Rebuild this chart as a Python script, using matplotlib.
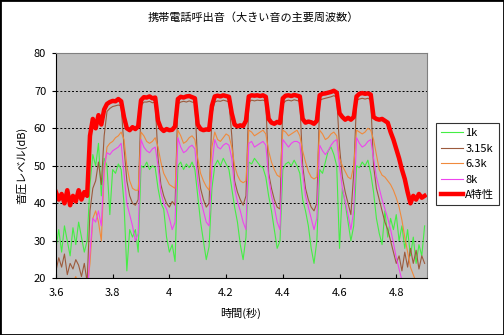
import numpy as np
import matplotlib
matplotlib.use('Agg')
import matplotlib.pyplot as plt
from matplotlib.patches import Rectangle

plt.rcParams['font.family'] = ['Noto Sans CJK JP', 'DejaVu Sans']

# 時間軸 (0.01秒刻み, 3.60〜4.90秒)
t_start = 3.60
t_step = 0.01

# 各周波数の音圧レベル (dB)
lv_1k = [
    28, 33, 27, 34, 30, 26, 33.5, 29, 35, 31,
    27, 30, 45, 53, 50, 56, 42, 52, 50, 37,
    49, 48, 50.5, 49, 40, 22, 33, 31, 33, 27,
    50, 49.5, 51, 49, 50, 49.5, 44, 40, 38.5, 31,
    27, 29, 24.5, 50, 51, 49, 50.5, 49.5, 51, 49,
    42, 35, 30, 25, 28.5, 44, 50, 51.5, 50, 52,
    50.5, 49, 44, 39, 35, 29, 25, 31, 51, 50.5,
    52, 51, 50, 49.5, 47, 42, 38, 33, 28, 30,
    49, 50.5, 51, 50, 51.5, 50, 48, 41, 38, 34,
    28, 24, 30, 49, 48, 51, 54, 55, 53, 50,
    28, 44, 40, 35, 30, 34, 50, 49.5, 51, 50,
    51.5, 48, 43, 36, 32, 29, 38, 31, 36, 33,
    37, 30, 34, 28, 33, 26, 31, 24, 29, 26,
    34,
]
lv_315k = [
    22, 25.5, 23, 26.5, 21, 24, 22.5, 25, 23.5, 20.5,
    24, 19, 38, 44, 46, 51, 45, 58, 64.5, 65.3,
    65.8, 66, 66.2, 66, 55, 46, 42, 40, 39.5, 41,
    66, 67, 67, 67.2, 66.8, 67, 52, 45, 42, 40,
    39, 40.5, 39.5, 66.5, 67, 67.2, 67, 67.3, 67, 66.8,
    50, 44, 41, 39, 40, 64, 67, 67.3, 67.2, 67.5,
    67.3, 67, 58, 46, 43, 41, 39.5, 42, 67, 67.5,
    67.3, 67.5, 67.4, 67.5, 67.2, 48, 44, 41, 39, 38.5,
    66.5, 67.3, 67.5, 67.3, 67.6, 67.4, 67.2, 50, 44, 41,
    39, 38, 40, 67.5, 67.8, 68, 68.2, 68.4, 68.7, 68.3,
    55, 47, 43, 40, 37, 48, 67.5, 67.8, 68, 67.8,
    68, 67.6, 50, 44, 41, 38, 35, 33, 30, 27,
    24, 26, 22, 27, 23, 28, 24, 27.5, 22.5, 26,
    24,
]
lv_63k = [
    17, 15, 18, 16, 14, 17, 19, 20.5, 18, 16,
    15, 17, 24, 36, 38, 35, 30, 48, 55, 56,
    56.5, 57.5, 58, 59, 57, 50, 46, 44, 43.5, 43.5,
    59, 58, 56.5, 56, 56.5, 57.5, 55, 51, 48, 46.5,
    45, 44.5, 44, 59.5, 58, 56, 56.5, 57.5, 58, 57,
    52, 48, 46, 44.5, 43.5, 55, 59, 57, 56.5, 57.5,
    58.5, 58, 55, 50, 47.5, 46, 45.5, 46, 59.5, 59,
    58, 58.5, 59, 59.5, 58.5, 54, 51, 49, 47.5, 47,
    59.5, 59, 58, 58.5, 59, 59.5, 58, 54, 51, 48.5,
    47, 46.5, 47, 59.5, 58.5, 57, 57.5, 58.5, 59, 58,
    52, 50, 48.5, 47, 46.5, 50, 59.5, 59, 58.5, 59,
    60, 59.5, 57, 53, 49, 47.5, 47, 46, 45, 43.5,
    41.5, 39, 35.5, 31, 27, 23, 21, 19, 18, 19.5,
    18,
]
lv_8k = [
    15, 16, 14, 17, 15, 16, 14, 15, 17, 16,
    15, 14, 27, 36, 35, 38, 34, 50, 53.5, 53,
    54, 54.5, 55, 56, 48, 40, 37, 34, 30, 32,
    57, 55, 54, 53.5, 54.5, 55, 50, 43, 40, 38.5,
    36, 33, 35, 57.5, 55, 53.5, 54, 55, 55.5, 54.5,
    46, 41, 38, 35, 34, 50, 57, 55, 54.5, 55.5,
    56, 55.5, 52, 44, 40.5, 38, 35, 33, 56, 56.5,
    55, 55.5, 56, 56.5, 55.5, 47, 42, 39, 35, 33,
    57, 56, 55, 56, 56.5, 56.5, 56, 48, 42, 39,
    36, 33, 36, 55.5, 54, 53, 54, 55.5, 56.5, 57,
    50, 44, 40.5, 37, 33, 38, 57.5, 56, 55, 55.5,
    56.5, 57, 52, 47, 44, 41, 38.5, 36, 33, 29.5,
    25.5, 22.5, 19.5, 17, 18, 16, 17, 15, 16, 14,
    15,
]
lv_A = [
    43, 41, 42.5, 40, 43.5, 39.5, 42, 40.5, 43.5, 41,
    43, 42, 58, 62.5, 60, 63.5, 61, 65, 66.5, 67,
    67.3, 67.2, 67.8, 67.2, 63, 60, 59.5, 60.3, 59.8, 60.5,
    67.5, 68.3, 68.2, 68.5, 68, 68.2, 62, 60, 59.3, 59.8,
    59.5, 59.6, 60.5, 67.8, 68.4, 68.2, 68.5, 68.6, 68.3, 68,
    61, 59.8, 59.5, 59.7, 59.6, 66, 68.5, 68.7, 68.5, 68.8,
    68.6, 68.4, 64, 61, 60.5, 60.8, 60.6, 62, 68.5, 68.8,
    68.7, 68.8, 68.6, 68.8, 68.4, 62.5, 61.5, 61.2, 61.7, 61.4,
    68, 68.7, 68.8, 68.6, 68.9, 68.7, 68.5, 62.5, 61.5, 61.8,
    61.6, 61.2, 62, 68.8, 69.2, 69.3, 69.5, 69.7, 70, 69.5,
    64, 63, 62.3, 62.8, 62.3, 63, 68.5, 69.2, 69.4, 69.2,
    69.3, 69, 63, 62.5, 62.3, 62.5, 62, 61.5, 59, 57,
    54.5, 52, 49, 46.5, 43, 40, 42, 41, 42.5, 41.5,
    42,
]

labels = ['1k', '3.15k', '6.3k', '8k', 'A特性']
colors = ['#44EE44', '#9C5A3C', '#F08A3C', '#EE44EE', '#FF0000']
widths = [0.8, 0.8, 0.8, 0.8, 3.2]

xticks = [3.6, 3.8, 4.0, 4.2, 4.4, 4.6, 4.8]
xtick_labels = ['3.6', '3.8', '4', '4.2', '4.4', '4.6', '4.8']
yticks = [20, 30, 40, 50, 60, 70, 80]

series = [lv_1k, lv_315k, lv_63k, lv_8k, lv_A]
t = np.round(t_start + t_step * np.arange(len(lv_A)), 2)

fig = plt.figure(figsize=(5.04, 3.35), dpi=100)
ax = fig.add_axes([0.111, 0.169, 0.736, 0.672])
ax.set_facecolor('#C0C0C0')

handles = []
for y, c, lw, lab in zip(series, colors, widths, labels):
    h, = ax.plot(t, y, color=c, lw=lw, label=lab, solid_joinstyle='round')
    handles.append(h)

ax.set_xlim(3.6, 4.908)
ax.set_ylim(20, 80)
ax.set_xticks(xticks)
ax.set_xticklabels(xtick_labels)
ax.set_yticks(yticks)
ax.tick_params(axis='x', direction='in', length=3, pad=7, labelsize=8)
ax.tick_params(axis='y', direction='out', length=3, pad=4, labelsize=8)

for yv in yticks[1:-1]:
    ax.axhline(yv, color='black', lw=0.7, ls=(0, (2, 2)), zorder=0.5)

for s in ['top', 'right']:
    ax.spines[s].set_color('#808080')
for s in ['left', 'bottom']:
    ax.spines[s].set_color('black')

fig.text(0.502, 0.948, '携帯電話呼出音（大きい音の主要周波数）', ha='center', va='center', fontsize=8)
fig.text(0.478, 0.064, '時間(秒)', ha='center', va='center', fontsize=8)
fig.text(0.043, 0.507, '音圧レベル(dB)', ha='center', va='center', rotation=90, fontsize=8)

leg = fig.legend(handles, labels, loc='upper left', bbox_to_anchor=(436 / 504, 1 - 123 / 335),
                 fontsize=8, frameon=True, fancybox=False, borderaxespad=0,
                 handlelength=2.0, handletextpad=0.2, labelspacing=0.5, borderpad=0.45)
leg.get_frame().set_edgecolor('black')
leg.get_frame().set_linewidth(0.8)

fig.add_artist(Rectangle((0, 0), 1, 1, transform=fig.transFigure, fill=False,
                         edgecolor='black', lw=2))

fig.savefig('out.png', dpi=100)
